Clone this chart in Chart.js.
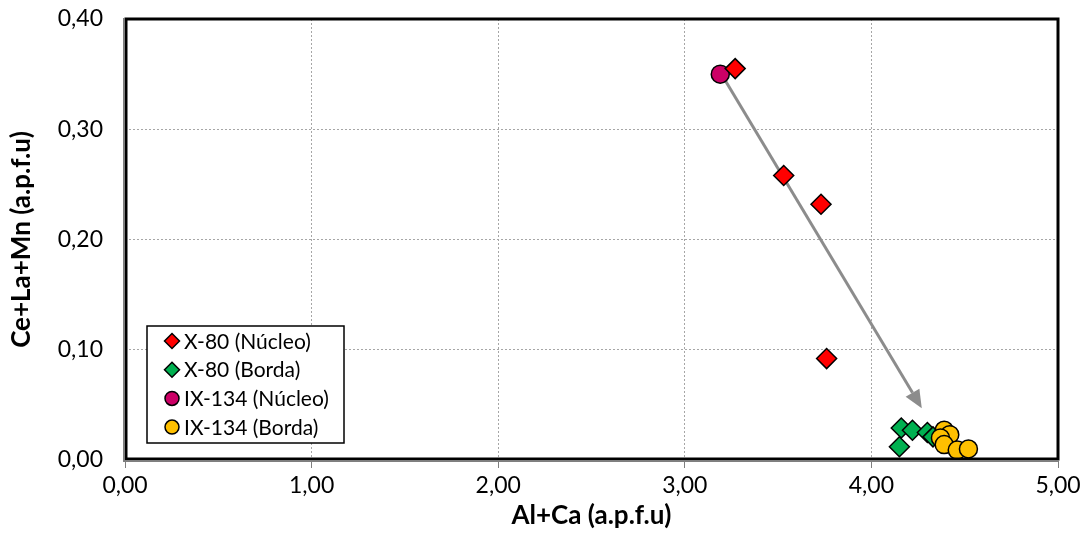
<!DOCTYPE html>
<html>
<head>
<meta charset="utf-8">
<script src="https://cdn.jsdelivr.net/npm/chart.js@4.4.1/dist/chart.umd.min.js"></script>
<style>
  html, body { margin: 0; padding: 0; background: #fff; }
  canvas { display: block; }
</style>
</head>
<body>
<canvas id="scatter-chart" width="1086" height="535"></canvas>
<script>
(function () {
    "use strict";

    // values
    var x80NucleoX = [3.27, 3.53, 3.73, 3.76];
    var x80NucleoY = [0.355, 0.258, 0.232, 0.092];
    var x80BordaX = [4.16, 4.22, 4.15, 4.30, 4.33];
    var x80BordaY = [0.029, 0.027, 0.012, 0.025, 0.021];
    var ix134NucleoX = [3.19];
    var ix134NucleoY = [0.350];
    var ix134BordaX = [4.39, 4.42, 4.37, 4.39, 4.46, 4.52];
    var ix134BordaY = [0.027, 0.023, 0.020, 0.014, 0.009, 0.010];

    var seriesLabels = ["X-80 (Núcleo)", "X-80 (Borda)", "IX-134 (Núcleo)", "IX-134 (Borda)"];
    var xTicks = [0, 1, 2, 3, 4, 5];
    var yTicks = [0, 0.1, 0.2, 0.3, 0.4];
    var arrowFrom = [3.20, 0.349];
    var arrowTo = [4.27, 0.047];

    var font = "Lato, 'Open Sans', sans-serif";

    function pts(xs, ys) {
        return xs.map(function (x, i) { return { x: x, y: ys[i] }; });
    }

    function fmt(v) {
        return v.toFixed(2).replace(".", ",");
    }

    // arrow between the two groups, drawn under the markers
    var arrowPlugin = {
        id: "arrow",
        beforeDatasetsDraw: function (chart) {
            var ctx = chart.ctx;
            var xs = chart.scales.x, ys = chart.scales.y;
            var x1 = xs.getPixelForValue(arrowFrom[0]), y1 = ys.getPixelForValue(arrowFrom[1]);
            var x2 = xs.getPixelForValue(arrowTo[0]), y2 = ys.getPixelForValue(arrowTo[1]);
            var ang = Math.atan2(y2 - y1, x2 - x1);
            var headLen = 18, headW = 8;
            var bx = x2 - Math.cos(ang) * headLen, by = y2 - Math.sin(ang) * headLen;
            ctx.save();
            ctx.strokeStyle = "#8c8c8c";
            ctx.fillStyle = "#8c8c8c";
            ctx.lineWidth = 3;
            ctx.beginPath();
            ctx.moveTo(x1, y1);
            ctx.lineTo(bx, by);
            ctx.stroke();
            ctx.beginPath();
            ctx.moveTo(x2, y2);
            ctx.lineTo(bx + Math.sin(ang) * headW, by - Math.cos(ang) * headW);
            ctx.lineTo(bx - Math.sin(ang) * headW, by + Math.cos(ang) * headW);
            ctx.closePath();
            ctx.fill();
            ctx.restore();
        }
    };

    // plot frame and the boxed legend inside the plot
    var framePlugin = {
        id: "frame",
        afterDraw: function (chart) {
            var ctx = chart.ctx;
            var a = chart.chartArea;
            ctx.save();
            ctx.strokeStyle = "#000";
            ctx.lineWidth = 3;
            ctx.strokeRect(a.left + 1, a.top, a.right - a.left - 1, a.bottom - a.top - 1);
            ctx.strokeStyle = "#7f7f7f";
            ctx.lineWidth = 2;
            ctx.beginPath();
            ctx.moveTo(a.left - 1, a.top - 1);
            ctx.lineTo(a.left - 1, a.bottom + 1);
            ctx.lineTo(a.right + 1, a.bottom + 1);
            ctx.stroke();

            // legend
            var lx = a.left + 22, ly = a.bottom - 134, lw = 197, lh = 117;
            ctx.fillStyle = "#fff";
            ctx.fillRect(lx, ly, lw, lh);
            ctx.strokeStyle = "#000";
            ctx.lineWidth = 1.5;
            ctx.strokeRect(lx, ly, lw, lh);
            ctx.font = "21px " + font;
            ctx.textBaseline = "middle";
            chart.data.datasets.forEach(function (ds, i) {
                var cy = ly + 15 + i * 28.7;
                var cx = lx + 25;
                ctx.fillStyle = ds.backgroundColor;
                ctx.strokeStyle = "#000";
                ctx.lineWidth = 1.5;
                ctx.beginPath();
                if (ds.pointStyle === "circle") {
                    ctx.arc(cx, cy, 7, 0, Math.PI * 2);
                } else {
                    ctx.moveTo(cx, cy - 7.5);
                    ctx.lineTo(cx + 7.5, cy);
                    ctx.lineTo(cx, cy + 7.5);
                    ctx.lineTo(cx - 7.5, cy);
                    ctx.closePath();
                }
                ctx.fill();
                ctx.stroke();
                ctx.fillStyle = "#000";
                ctx.fillText(ds.label, cx + 12, cy + 1);
            });
            ctx.restore();
        }
    };

    var ctxScatter = document.getElementById("scatter-chart").getContext("2d");
    var myScatterChart = new Chart(ctxScatter, {
        type: "scatter",
        data: {
            datasets: [{
                label: seriesLabels[0],
                data: pts(x80NucleoX, x80NucleoY),
                pointStyle: "rectRot",
                pointRadius: 10,
                backgroundColor: "#ff0000",
                borderColor: "#000",
                borderWidth: 1.5,
                order: 1
            }, {
                label: seriesLabels[1],
                data: pts(x80BordaX, x80BordaY),
                pointStyle: "rectRot",
                pointRadius: 10,
                backgroundColor: "#00b050",
                borderColor: "#000",
                borderWidth: 1.5,
                order: 2
            }, {
                label: seriesLabels[2],
                data: pts(ix134NucleoX, ix134NucleoY),
                pointStyle: "circle",
                pointRadius: 9,
                backgroundColor: "#cc0066",
                borderColor: "#000",
                borderWidth: 1.5,
                order: 3
            }, {
                label: seriesLabels[3],
                data: pts(ix134BordaX, ix134BordaY),
                pointStyle: "circle",
                pointRadius: 9,
                backgroundColor: "#ffc000",
                borderColor: "#000",
                borderWidth: 1.5,
                order: 0
            }]
        },
        options: {
            responsive: false,
            animation: false,
            layout: { padding: { top: 19, right: 28, left: 0, bottom: 0 } },
            plugins: {
                legend: { display: false },
                tooltip: { enabled: false }
            },
            scales: {
                x: {
                    type: "linear",
                    min: xTicks[0],
                    max: xTicks[xTicks.length - 1],
                    afterBuildTicks: function (scale) {
                        scale.ticks = xTicks.map(function (v) { return { value: v }; });
                    },
                    afterFit: function (scale) { scale.height = 75; },
                    border: { display: false, dash: [2, 2] },
                    grid: {
                        color: "#a6a6a6",
                        tickColor: "#7f7f7f",
                        tickBorderDash: [],
                        tickLength: 8
                    },
                    ticks: {
                        padding: 4,
                        color: "#000",
                        font: { family: font, size: 23 },
                        callback: function (v) { return fmt(v); }
                    },
                    title: {
                        display: true,
                        text: "Al+Ca (a.p.f.u)",
                        color: "#000",
                        font: { family: font, size: 26, weight: "bold" },
                        padding: { top: 0, bottom: 4 }
                    }
                },
                y: {
                    type: "linear",
                    min: yTicks[0],
                    max: yTicks[yTicks.length - 1],
                    afterBuildTicks: function (scale) {
                        scale.ticks = yTicks.map(function (v) { return { value: v }; });
                    },
                    afterFit: function (scale) { scale.width = 125; },
                    border: { display: false, dash: [2, 2] },
                    grid: {
                        color: "#a6a6a6",
                        tickColor: "rgba(0,0,0,0)",
                        tickLength: 22
                    },
                    ticks: {
                        padding: 0,
                        color: "#000",
                        font: { family: font, size: 23 },
                        callback: function (v) { return fmt(v); }
                    },
                    title: {
                        display: true,
                        text: "Ce+La+Mn (a.p.f.u)",
                        color: "#000",
                        font: { family: font, size: 26, weight: "bold" },
                        padding: { top: 6, bottom: 0 }
                    }
                }
            }
        },
        plugins: [arrowPlugin, framePlugin]
    });
})();
</script>
</body>
</html>
